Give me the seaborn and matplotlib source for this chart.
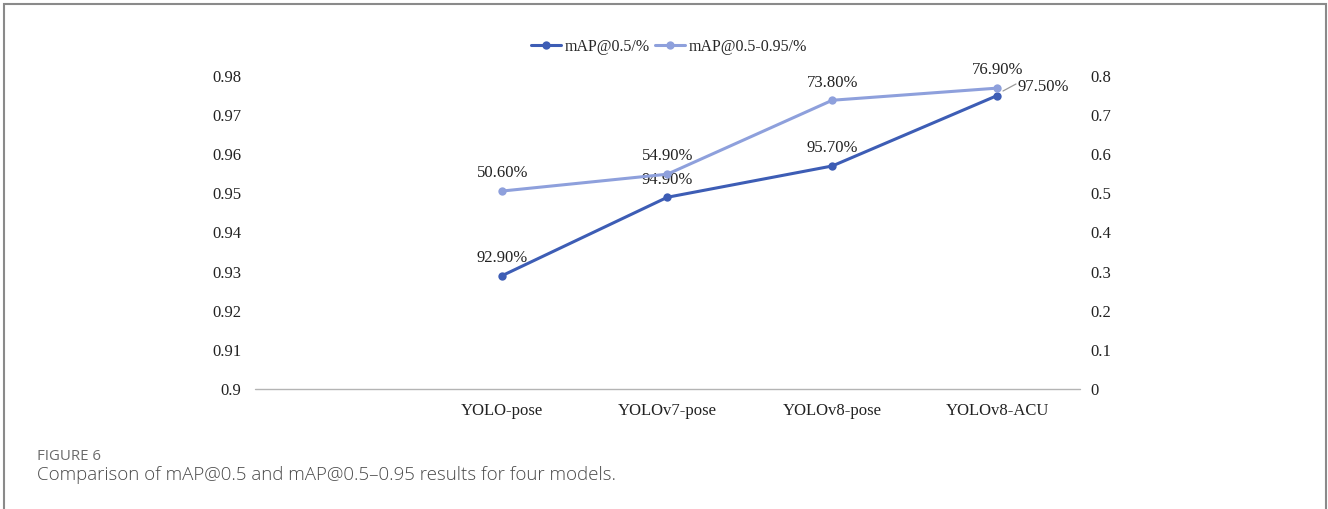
import numpy as np
import pandas as pd
import matplotlib
matplotlib.use("Agg")
import matplotlib.pyplot as plt
from matplotlib.patches import Rectangle
from matplotlib.lines import Line2D
import seaborn as sns

models = ["YOLO-pose", "YOLOv7-pose", "YOLOv8-pose", "YOLOv8-ACU"]
map50 = [0.929, 0.949, 0.957, 0.975]
map50_95 = [0.506, 0.549, 0.738, 0.769]
left_ticks = [0.9, 0.91, 0.92, 0.93, 0.94, 0.95, 0.96, 0.97, 0.98]
right_ticks = [0, 0.1, 0.2, 0.3, 0.4, 0.5, 0.6, 0.7, 0.8]

sns.set_theme(style="white")
plt.rcParams["font.family"] = ["Liberation Serif", "DejaVu Serif"]

dark = "#3D5DB5"
light = "#8EA0DC"
W, H = 1328, 509

# slot 0 on the category axis is left empty, models occupy slots 1..4
pos = np.arange(1, len(models) + 1)
df = pd.DataFrame({"pos": pos, "model": models, "m50": map50, "m5095": map50_95})

fig = plt.figure(figsize=(W / 100, H / 100), dpi=100)
ax = fig.add_axes([0.192, 0.2358, 0.621, 0.6149])
ax2 = ax.twinx()

sns.lineplot(data=df, x="pos", y="m50", ax=ax, color=dark, lw=2.2,
             marker="o", markersize=6, markeredgewidth=0, zorder=3)
sns.lineplot(data=df, x="pos", y="m5095", ax=ax2, color=light, lw=2.2,
             marker="o", markersize=6, markeredgewidth=0, zorder=2)

ax.set_xlim(-0.5, len(models) + 0.5)
ax.set_ylim(left_ticks[0], left_ticks[-1])
ax2.set_ylim(right_ticks[0], right_ticks[-1])
ax.set_yticks(left_ticks)
ax.set_yticklabels([f"{t:g}" for t in left_ticks])
ax2.set_yticks(right_ticks)
ax2.set_yticklabels([f"{t:g}" for t in right_ticks])
ax.set_xticks(pos)
ax.set_xticklabels(models)
ax.set_xlabel("")
ax.set_ylabel("")
ax2.set_ylabel("")

for a in (ax, ax2):
    for s in ["top", "left", "right", "bottom"]:
        a.spines[s].set_visible(False)
    a.tick_params(length=0, labelsize=12, colors="#222222")
    a.grid(False)
ax.tick_params(axis="y", pad=10)
ax2.tick_params(axis="y", pad=8)
ax.tick_params(axis="x", pad=10)
ax.axhline(left_ticks[0], color="#B4B4B4", lw=1.0, zorder=1, clip_on=False)
ax.set_facecolor("none")

# value labels
lab_kw = dict(fontsize=12, color="#222222", ha="center", va="bottom")
for i, (x, v) in enumerate(zip(pos, map50)):
    if i == len(pos) - 1:
        ax.annotate(f"{v*100:.2f}%", xy=(x, v), xytext=(1018, H - 87),
                    textcoords="figure pixels", fontsize=12, color="#222222",
                    ha="left", va="center")
    else:
        ax.annotate(f"{v*100:.2f}%", xy=(x, v), xytext=(0, 7),
                    textcoords="offset points", **lab_kw)
for x, v in zip(pos, map50_95):
    ax2.annotate(f"{v*100:.2f}%", xy=(x, v), xytext=(0, 7),
                 textcoords="offset points", **lab_kw)

# leader line for the last mAP@0.5 label
fig.add_artist(Line2D([1003 / W, 1016 / W], [(H - 91) / H, (H - 84) / H],
                      color="#9A9A9A", lw=0.9))

handles = [Line2D([0], [0], color=dark, lw=2.2, marker="o", markersize=6, markeredgewidth=0),
           Line2D([0], [0], color=light, lw=2.2, marker="o", markersize=6, markeredgewidth=0)]
fig.legend(handles, ["mAP@0.5/%", "mAP@0.5-0.95/%"], loc="center",
           bbox_to_anchor=(669 / W, 1 - 47 / H), ncol=2, frameon=False,
           fontsize=11.5, handlelength=1.9, columnspacing=0.3, handletextpad=0.25)

# caption
fig.text(37 / W, 1 - 457 / H, "FIGURE 6", fontsize=10.8, color="#6B6B6B",
         family=["Open Sans", "DejaVu Sans"], va="center", ha="left")
fig.text(37 / W, 1 - 475 / H,
         "Comparison of mAP@0.5 and mAP@0.5\u20130.95 results for four models.",
         fontsize=13.5, color="#4A4A4A", family=["Open Sans", "DejaVu Sans"],
         va="center", ha="left", fontweight="light")

# frame around the figure, open at the bottom
fig.add_artist(Rectangle((4 / W, -0.2), 1322 / W, 1.2 - 4 / H,
                         transform=fig.transFigure, fill=False,
                         edgecolor="#8A8A8A", lw=1.5))

fig.savefig("out.png", dpi=100)
